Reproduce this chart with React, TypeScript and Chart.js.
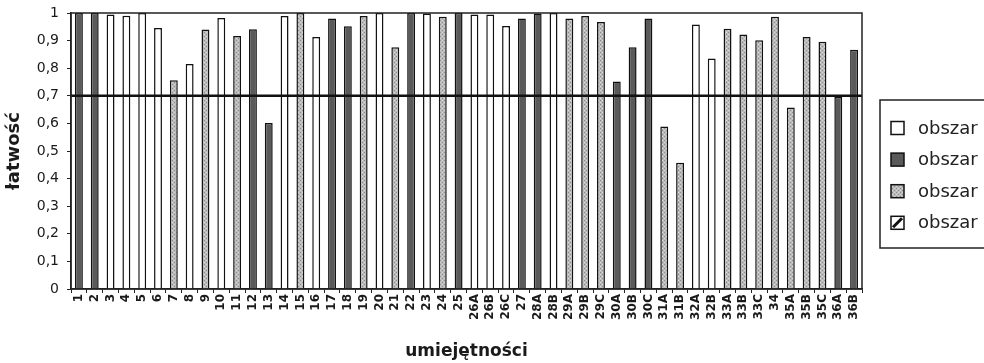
import React, { useEffect, useRef } from "react";
import { Chart, registerables } from "chart.js";

Chart.register(...registerables);

// ---- data ----
const CATEGORIES = [
  "1", "2", "3", "4", "5", "6", "7", "8", "9", "10",
  "11", "12", "13", "14", "15", "16", "17", "18", "19", "20",
  "21", "22", "23", "24", "25", "26A", "26B", "26C", "27", "28A",
  "28B", "29A", "29B", "29C", "30A", "30B", "30C", "31A", "31B", "32A",
  "32B", "33A", "33B", "33C", "34", "35A", "35B", "35C", "36A", "36B",
];

// łatwość (facility) per skill
const EASE = [
  1.0, 1.0, 0.995, 0.99, 1.0, 0.946, 0.756, 0.815, 0.94, 0.982,
  0.917, 0.941, 0.601, 0.989, 1.0, 0.913, 0.98, 0.952, 0.989, 1.0,
  0.876, 1.0, 0.998, 0.986, 1.0, 0.995, 0.995, 0.953, 0.98, 0.998,
  1.0, 0.98, 0.989, 0.967, 0.752, 0.876, 0.98, 0.589, 0.457, 0.958,
  0.835, 0.943, 0.922, 0.901, 0.986, 0.658, 0.913, 0.896, 0.696, 0.867,
];

// obszar index per skill: 0 white, 1 dark, 2 light (dotted), 3 hatched
const AREA = [
  1, 1, 0, 0, 0, 0, 2, 0, 2, 0,
  2, 1, 1, 0, 2, 0, 1, 1, 2, 0,
  2, 1, 0, 2, 1, 0, 0, 0, 1, 1,
  0, 2, 2, 2, 1, 1, 1, 2, 2, 0,
  0, 2, 2, 2, 2, 2, 2, 2, 1, 1,
];

const AREA_NAMES = ["obszar", "obszar", "obszar", "obszar"];
const THRESHOLD = 0.7;

const FONT = '"DejaVu Sans", "Liberation Sans", Arial, sans-serif';

function makeDotPattern(): CanvasPattern | string {
  const c = document.createElement("canvas");
  c.width = 4;
  c.height = 4;
  const g = c.getContext("2d");
  if (!g) return "#b8b8b8";
  g.fillStyle = "#bcbcbc";
  g.fillRect(0, 0, 4, 4);
  g.fillStyle = "#8a8a8a";
  g.fillRect(0, 0, 1, 1);
  g.fillRect(2, 2, 1, 1);
  g.fillStyle = "#d6d6d6";
  g.fillRect(2, 0, 1, 1);
  g.fillRect(0, 2, 1, 1);
  const p = g.createPattern(c, "repeat");
  return p || "#b8b8b8";
}

function makeHatchPattern(): CanvasPattern | string {
  const c = document.createElement("canvas");
  c.width = 6;
  c.height = 6;
  const g = c.getContext("2d");
  if (!g) return "#ffffff";
  g.fillStyle = "#ffffff";
  g.fillRect(0, 0, 6, 6);
  g.strokeStyle = "#111";
  g.lineWidth = 1;
  g.beginPath();
  g.moveTo(0, 6);
  g.lineTo(6, 0);
  g.stroke();
  const p = g.createPattern(c, "repeat");
  return p || "#ffffff";
}

const framePlugin = {
  id: "frameAndThreshold",
  afterDatasetsDraw(chart: any) {
    const { ctx, chartArea, scales } = chart;
    const y = scales.y.getPixelForValue(THRESHOLD);
    ctx.save();
    ctx.strokeStyle = "#111";
    ctx.lineWidth = 2.5;
    ctx.beginPath();
    ctx.moveTo(chartArea.left, y);
    ctx.lineTo(chartArea.right, y);
    ctx.stroke();
    ctx.lineWidth = 1.5;
    ctx.strokeStyle = "#222";
    ctx.strokeRect(chartArea.left, chartArea.top, chartArea.right - chartArea.left, chartArea.bottom - chartArea.top);
    ctx.restore();
  },
};

const legendPlugin = {
  id: "boxLegend",
  afterDraw(chart: any) {
    const { ctx, chartArea } = chart;
    const bx = chartArea.right + 18;
    const by = 100;
    const bw = 140;
    const bh = 148;
    ctx.save();
    ctx.strokeStyle = "#222";
    ctx.lineWidth = 1.5;
    ctx.strokeRect(bx, by, bw, bh);
    chart.data.datasets.forEach((ds: any, i: number) => {
      const cy = by + 28 + i * 31.6;
      const mx = bx + 11;
      const size = 13;
      ctx.fillStyle = i === 3 ? "#ffffff" : ds.backgroundColor;
      ctx.fillRect(mx, cy - size / 2, size, size);
      if (i === 3) {
        ctx.strokeStyle = "#111";
        ctx.lineWidth = 3;
        ctx.beginPath();
        ctx.moveTo(mx + 2, cy + size / 2 - 2);
        ctx.lineTo(mx + size - 2, cy - size / 2 + 2);
        ctx.stroke();
      }
      ctx.strokeStyle = "#111";
      ctx.lineWidth = 1.5;
      ctx.strokeRect(mx, cy - size / 2, size, size);
      ctx.fillStyle = "#222";
      ctx.font = `18px ${FONT}`;
      ctx.textBaseline = "middle";
      ctx.textAlign = "left";
      ctx.fillText(ds.label, bx + 38, cy + 1);
    });
    ctx.restore();
  },
};

export default function App() {
  const canvasRef = useRef<HTMLCanvasElement | null>(null);

  useEffect(() => {
    const canvas = canvasRef.current;
    if (!canvas) return;
    const fills: any[] = ["#ffffff", "#5a5a5a", makeDotPattern(), makeHatchPattern()];

    const datasets = AREA_NAMES.map((name, k) => ({
      label: name,
      data: EASE.map((v, i) => (AREA[i] === k ? v : null)),
      backgroundColor: fills[k],
      borderColor: "#111",
      borderWidth: 1.5,
      barPercentage: 0.5,
      categoryPercentage: 1,
    }));

    const chart = new Chart(canvas, {
      type: "bar",
      data: { labels: CATEGORIES, datasets },
      options: {
        responsive: false,
        animation: false,
        maintainAspectRatio: false,
        layout: { padding: { top: 13, right: 122, bottom: 0, left: 0 } },
        plugins: {
          legend: { display: false },
          tooltip: { enabled: false },
        },
        scales: {
          x: {
            stacked: true,
            afterFit: (s: any) => {
              s.height = 74;
              s.paddingLeft = 0;
              s.paddingRight = 0;
            },
            grid: {
              display: true,
              drawOnChartArea: false,
              drawTicks: true,
              tickLength: 4,
              tickColor: "#222",
              offset: true,
            },
            border: { display: true, color: "#222", width: 1.5 },
            ticks: {
              autoSkip: false,
              minRotation: 90,
              maxRotation: 90,
              padding: 1,
              color: "#1a1a1a",
              font: { family: FONT, size: 12, weight: "bold" },
            },
            title: {
              display: true,
              text: "umiejętności",
              color: "#1a1a1a",
              font: { family: FONT, size: 17, weight: "bold" },
              padding: { top: 0, bottom: 1 },
            },
          },
          y: {
            stacked: true,
            min: 0,
            max: 1,
            afterFit: (s: any) => {
              s.width = 71;
              s.paddingTop = 0;
              s.paddingBottom = 0;
            },
            grid: {
              display: true,
              drawOnChartArea: false,
              drawTicks: true,
              tickLength: 4,
              tickColor: "#222",
            },
            border: { display: true, color: "#222", width: 1.5 },
            ticks: {
              stepSize: 0.1,
              padding: 8,
              color: "#1a1a1a",
              font: { family: FONT, size: 14 },
              callback: (v: any) => {
                const s = Number(v).toFixed(1);
                return s.endsWith(".0") ? s.slice(0, -2) : s.replace(".", ",");
              },
            },
            title: {
              display: true,
              text: "łatwość",
              color: "#1a1a1a",
              font: { family: FONT, size: 18, weight: "bold" },
              padding: { top: 4, bottom: 0 },
            },
          },
        },
      },
      plugins: [framePlugin, legendPlugin],
    } as any);

    return () => chart.destroy();
  }, []);

  return (
    <div style={{ position: "absolute", left: 0, top: 0, width: 984, height: 363, background: "#fff" }}>
      <canvas ref={canvasRef} width={984} height={363} style={{ display: "block" }} />
    </div>
  );
}
